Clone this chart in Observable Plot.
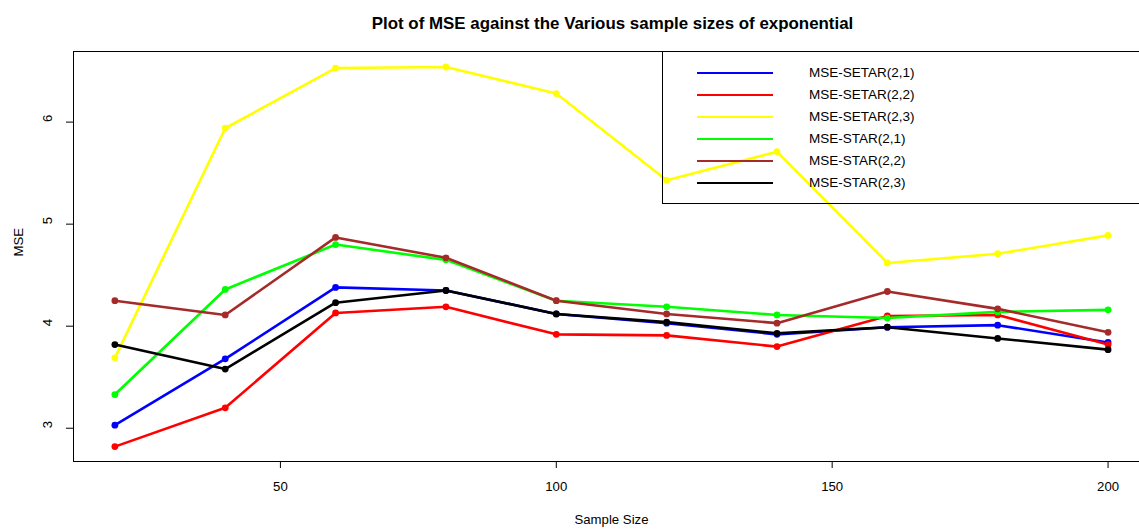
<!DOCTYPE html>
<html>
<head>
<meta charset="utf-8">
<script src="https://cdn.jsdelivr.net/npm/d3@7"></script>
<script src="https://cdn.jsdelivr.net/npm/@observablehq/plot@0.6"></script>
<style>
  html, body { margin: 0; padding: 0; background: #fff; overflow: hidden; }
  #wrap { position: relative; width: 1139px; height: 529px; overflow: hidden; font-family: "Liberation Sans", Arial, sans-serif; }
  #legend { position: absolute; left: 662px; top: 51px; width: 520px; height: 153px; border: 1px solid #000; box-sizing: border-box; background: transparent; }
  .lg-line { position: absolute; height: 2.5px; }
  .lg-text { position: absolute; font-size: 13.5px; color: #000; line-height: 1; transform: translateY(-50%); white-space: nowrap; }
</style>
</head>
<body>
<div id="wrap"></div>
<script>
const sampleSizes = [20, 40, 60, 80, 100, 120, 140, 160, 180, 200];
const seriesNames = ["MSE-SETAR(2,1)", "MSE-SETAR(2,2)", "MSE-SETAR(2,3)", "MSE-STAR(2,1)", "MSE-STAR(2,2)", "MSE-STAR(2,3)"];
const seriesColors = ["#0000FF", "#FF0000", "#FFFF00", "#00FF00", "#A52A2A", "#000000"];
const setar21 = [3.03, 3.68, 4.38, 4.35, 4.12, 4.03, 3.92, 3.99, 4.01, 3.84];
const setar22 = [2.82, 3.20, 4.13, 4.19, 3.92, 3.91, 3.80, 4.10, 4.11, 3.82];
const setar23 = [3.69, 5.94, 6.53, 6.54, 6.28, 5.43, 5.71, 4.62, 4.71, 4.89];
const star21  = [3.33, 4.36, 4.80, 4.65, 4.25, 4.19, 4.11, 4.08, 4.14, 4.16];
const star22  = [4.25, 4.11, 4.87, 4.67, 4.25, 4.12, 4.03, 4.34, 4.17, 3.94];
const star23  = [3.82, 3.58, 4.23, 4.35, 4.12, 4.04, 3.93, 3.99, 3.88, 3.77];
const xTicks = [50, 100, 150, 200];
const yTicks = [3, 4, 5, 6];
const titleText = "Plot of MSE against the Various sample sizes of exponential";
const xLabel = "Sample Size";
const yLabel = "MSE";

const seriesValues = [setar21, setar22, setar23, star21, star22, star23];
const data = [];
seriesNames.forEach((name, i) => {
  sampleSizes.forEach((n, j) => data.push({series: name, n, mse: seriesValues[i][j]}));
});

const chart = Plot.plot({
  width: 1139,
  height: 529,
  marginLeft: 73,
  marginRight: 0,
  marginTop: 51,
  marginBottom: 68,
  style: {fontFamily: "'Liberation Sans', Arial, sans-serif", fontSize: "13.2px", background: "#fff", overflow: "visible"},
  x: {domain: [12.5, 205.7]},
  y: {domain: [2.674, 6.692]},
  color: {domain: seriesNames, range: seriesColors},
  marks: [
    Plot.frame({anchor: "top", stroke: "#000"}),
    Plot.frame({anchor: "left", stroke: "#000"}),
    Plot.frame({anchor: "bottom", stroke: "#000"}),
    Plot.ruleY([2.674], {x1: xTicks[0], x2: xTicks[xTicks.length - 1], stroke: "#000"}),
    Plot.axisX({ticks: xTicks, tickSize: 7, tickPadding: 13, label: null, fontSize: 13.2, stroke: "#000"}),
    Plot.axisY({ticks: yTicks, tickSize: 7, tickFormat: () => "", label: null, stroke: "#000"}),
    Plot.text(yTicks, {y: d => d, text: d => String(d), frameAnchor: "left", dx: -26, rotate: -90, fontSize: 13.2, fill: "#000"}),
    Plot.line(data, {x: "n", y: "mse", stroke: "series", z: "series", strokeWidth: 2.6}),
    Plot.dot(data, {x: "n", y: "mse", fill: "series", r: 3.4}),
    Plot.text([titleText], {frameAnchor: "top", dy: -35, dx: 6, fontWeight: "bold", fontSize: 16.9, fill: "#000"}),
    Plot.text([xLabel], {frameAnchor: "bottom", dy: 62, dx: 5, fontSize: 13.2, fill: "#000"}),
    Plot.text([yLabel], {frameAnchor: "left", dx: -55, rotate: -90, fontSize: 13.2, fill: "#000"})
  ]
});

const wrap = document.getElementById("wrap");
wrap.appendChild(chart);

const legend = document.createElement("div");
legend.id = "legend";
seriesNames.forEach((name, i) => {
  const cy = 21 + i * 22;
  const ln = document.createElement("div");
  ln.className = "lg-line";
  ln.style.left = "34px";
  ln.style.width = "76px";
  ln.style.top = (cy - 1.25) + "px";
  ln.style.background = seriesColors[i];
  legend.appendChild(ln);
  const tx = document.createElement("div");
  tx.className = "lg-text";
  tx.style.left = "146px";
  tx.style.top = cy + "px";
  tx.textContent = name;
  legend.appendChild(tx);
});
wrap.appendChild(legend);
</script>
</body>
</html>
